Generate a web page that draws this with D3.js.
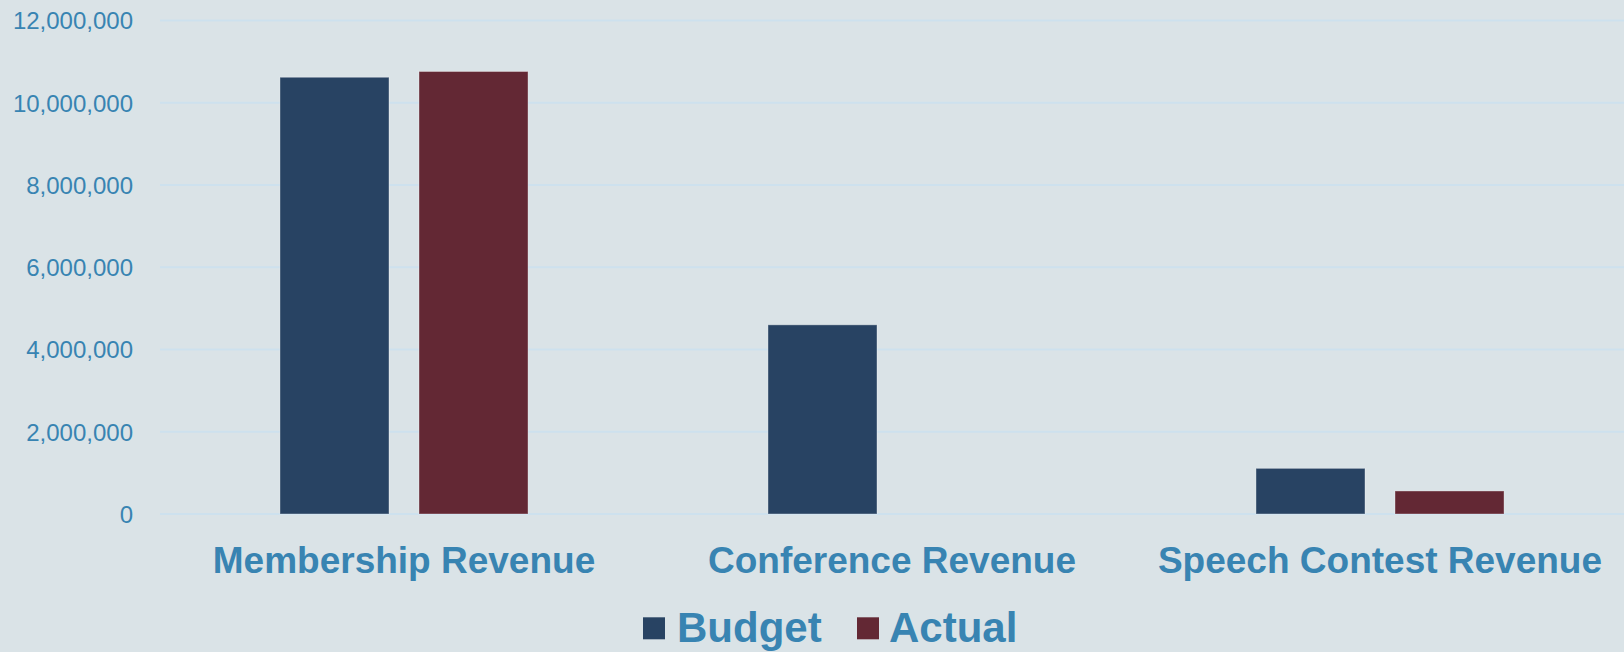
<!DOCTYPE html>
<html>
<head>
<meta charset="utf-8">
<script src="https://cdn.jsdelivr.net/npm/d3@7"></script>
<style>
  html, body { margin: 0; padding: 0; background: #dae3e7; }
  svg { display: block; font-family: "Liberation Sans", Arial, Helvetica, sans-serif; }
</style>
</head>
<body>
<svg id="chart" width="1624" height="652"></svg>
<script>
const categories = ["Membership Revenue", "Conference Revenue", "Speech Contest Revenue"];
const seriesNames = ["Budget", "Actual"];
const budgetValues = [10620000, 4600000, 1110000];
const actualValues = [10760000, 0, 560000];
const yTicks = [0, 2000000, 4000000, 6000000, 8000000, 10000000, 12000000];
const seriesColors = ["#284363", "#632834"];

const W = 1624, H = 652;
const textColor = "#3884b2";
const svg = d3.select("#chart");
svg.append("rect").attr("width", W).attr("height", H).attr("fill", "#dae3e7");

const plotLeft = 160, plotRight = 1624, plotTop = 20.5, plotBottom = 514;

const y = d3.scaleLinear().domain([0, 12000000]).range([plotBottom, plotTop]);
const x0 = d3.scaleBand().domain(categories).range([plotLeft, plotRight]).padding(0);
const x1 = d3.scaleBand().domain(seriesNames).range([0, x0.bandwidth()])
  .paddingInner(0.2158).paddingOuter(0.863);
const color = d3.scaleOrdinal().domain(seriesNames).range(seriesColors);

// gridlines
svg.append("g").selectAll("line").data(yTicks).join("line")
  .attr("x1", plotLeft).attr("x2", plotRight)
  .attr("y1", d => y(d)).attr("y2", d => y(d))
  .attr("stroke", "#cde1ee").attr("stroke-width", 2);

// y axis labels
const yAxis = d3.axisLeft(y).tickValues(yTicks).tickFormat(d3.format(",")).tickSize(0).tickPadding(0);
const yg = svg.append("g").attr("transform", `translate(133,0)`).call(yAxis);
yg.select(".domain").remove();
yg.selectAll("text").attr("fill", textColor).attr("font-size", 24)
  .attr("font-family", "'Liberation Sans', Arial, sans-serif").attr("dy", "0.35em");

// bars
const rows = categories.map((c, i) => ({ cat: c, vals: [
  { s: "Budget", v: budgetValues[i] }, { s: "Actual", v: actualValues[i] }] }));

const groups = svg.append("g").selectAll("g").data(rows).join("g")
  .attr("transform", d => `translate(${x0(d.cat)},0)`);
groups.selectAll("rect").data(d => d.vals.filter(e => e.v > 0)).join("rect")
  .attr("x", d => x1(d.s))
  .attr("width", x1.bandwidth())
  .attr("y", d => y(d.v))
  .attr("height", d => y(0) - y(d.v))
  .attr("fill", d => color(d.s))
  .attr("stroke", "rgba(255,255,255,0.35)")
  .attr("stroke-width", 1);

// category labels
svg.append("g").selectAll("text").data(categories).join("text")
  .attr("x", d => x0(d) + x0.bandwidth() / 2)
  .attr("y", 572.5)
  .attr("text-anchor", "middle")
  .attr("font-size", 37)
  .attr("font-weight", "bold")
  .attr("fill", textColor)
  .text(d => d);

// legend
const legend = svg.append("g");
const legendItems = [
  { s: "Budget", sq: 643, tx: 677 },
  { s: "Actual", sq: 857, tx: 889 }
];
seriesNames.forEach((s, i) => {
  const it = legendItems[i];
  legend.append("rect").attr("x", it.sq).attr("y", 617.3).attr("width", 22).attr("height", 22)
    .attr("fill", color(s));
  legend.append("text").attr("x", it.tx).attr("y", 642.3)
    .attr("font-size", 42).attr("font-weight", "bold").attr("fill", textColor).text(s);
});
</script>
</body>
</html>
